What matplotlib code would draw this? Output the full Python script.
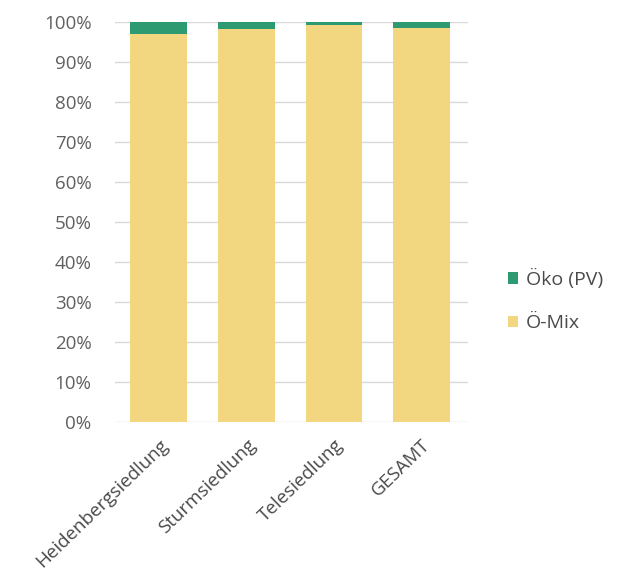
import matplotlib.pyplot as plt
import numpy as np
from matplotlib.ticker import PercentFormatter

# Anteile je Siedlung
siedlungen = ['Heidenbergsiedlung', 'Sturmsiedlung', 'Telesiedlung', 'GESAMT']
oe_mix = [97.1, 98.3, 99.4, 98.5]
oeko_pv = [2.9, 1.7, 0.6, 1.5]

plt.rcParams['font.family'] = ['Open Sans', 'DejaVu Sans']

fig = plt.figure(figsize=(6.19, 5.86), dpi=100)
ax = fig.add_axes([0.186, 0.280, 0.570, 0.682])

x = np.arange(len(siedlungen))
ax.bar(x, oe_mix, width=0.65, color='#F2D680', label='Ö-Mix', zorder=3)
ax.bar(x, oeko_pv, width=0.65, bottom=oe_mix, color='#2E9A72', label='Öko (PV)', zorder=3)

ax.set_ylim(0, 100)
ax.set_xlim(-0.5, 3.53)
ax.set_yticks(np.arange(0, 101, 10))
ax.yaxis.set_major_formatter(PercentFormatter(decimals=0))
ax.grid(axis='y', color='#d9d9d9', linewidth=1, zorder=0)
for s in ax.spines.values():
    s.set_visible(False)
ax.tick_params(length=0, colors='#606060')
ax.tick_params(axis='y', pad=17, labelsize=13.5)
ax.tick_params(axis='x', pad=10, labelsize=13.5)
ax.set_xticks(x)
ax.set_xticklabels(siedlungen, rotation=44, ha='right', rotation_mode='anchor', color='#4a4a4a')

h, l = ax.get_legend_handles_labels()
fig.legend(h[::-1], l[::-1], loc='center left', bbox_to_anchor=(0.792, 0.487),
           frameon=False, handlelength=0.55, handleheight=0.55, handletextpad=0.4,
           labelspacing=1.3, fontsize=14, labelcolor='#4a4a4a')

fig.savefig('out.png', dpi=100)
